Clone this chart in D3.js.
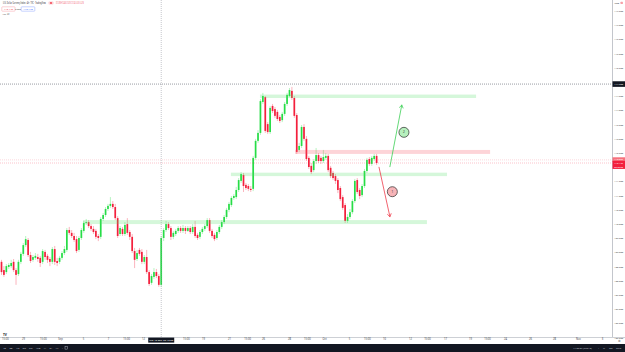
<!DOCTYPE html>
<html><head><meta charset="utf-8">
<script src="https://cdn.jsdelivr.net/npm/d3@7"></script>
<style>
html,body{margin:0;padding:0;background:#fff;overflow:hidden}
svg{display:block;font-family:"Noto Sans",Roboto,Arial,sans-serif}
</style></head><body>
<svg id="c" width="625" height="352"></svg>
<script>
// ---- DATA (4h candles, U.S. Dollar Currency Index) ----
const open = [108.66,108.37,108.30,108.48,108.51,108.66,108.37,108.23,108.66,108.94,
109.25,109.43,108.90,108.73,108.80,108.83,108.80,108.66,109.01,108.87,
108.76,108.66,109.11,108.69,108.66,108.80,108.97,109.08,109.78,109.68,
109.57,109.46,109.08,109.50,109.75,110.03,110.06,109.92,109.82,109.75,
109.57,109.54,110.17,110.31,110.52,110.63,110.70,110.59,110.20,109.64,
109.82,109.64,109.99,109.71,109.54,109.04,108.76,109.08,109.01,108.66,
108.83,108.30,107.92,108.13,108.30,108.16,107.85,109.50,109.78,109.99,
109.85,109.54,109.64,109.75,109.85,109.75,109.85,109.75,109.85,109.71,
109.89,109.61,109.54,109.71,109.82,109.92,110.13,109.75,109.61,109.50,
109.71,109.89,110.06,110.24,110.49,110.66,110.91,110.94,111.19,111.51,
111.72,111.37,111.33,111.23,111.23,112.32,112.92,113.20,114.29,114.46,
113.51,113.23,114.15,114.04,113.94,113.76,113.65,113.87,114.22,114.50,
114.68,114.43,113.83,112.60,112.74,113.41,112.99,112.32,112.04,111.89,
112.21,112.42,112.32,112.21,112.32,112.39,111.97,111.79,111.68,111.54,
111.26,110.94,110.66,110.10,110.24,110.41,110.80,111.54,111.19,111.01,
111.33,111.86,112.28,112.11,112.28,112.39];
const high = [108.73,108.51,108.58,108.62,108.73,108.76,108.44,108.73,109.01,109.32,
109.57,109.50,109.01,108.90,108.97,108.94,108.87,109.11,109.08,108.94,
108.83,109.18,109.22,108.80,108.87,109.04,109.22,109.85,109.89,109.78,
109.68,109.57,109.57,109.85,110.10,110.17,110.13,109.99,109.92,109.82,
109.64,110.24,110.38,110.59,110.70,110.94,110.80,110.70,110.27,109.92,
109.89,110.06,110.20,109.78,109.64,109.15,109.08,109.15,109.11,108.90,
109.08,108.37,108.23,108.44,108.41,108.23,109.57,109.85,110.10,110.06,
109.92,109.75,109.82,109.92,109.92,109.96,109.92,109.92,109.92,109.99,
110.10,109.68,109.78,109.89,109.99,110.20,110.20,109.82,109.68,109.78,
109.96,110.13,110.31,110.56,110.77,110.98,111.05,111.30,111.61,111.82,
111.79,111.44,111.40,111.33,112.39,112.99,113.30,114.39,114.61,114.50,
113.58,114.15,114.22,114.11,114.01,113.83,113.94,114.29,114.61,114.78,
114.82,114.50,113.90,112.85,113.48,113.51,113.09,112.39,112.14,112.28,
112.67,112.49,112.39,112.60,112.49,112.46,112.04,111.86,111.75,111.61,
111.33,111.01,110.73,110.34,110.52,110.87,111.58,111.61,111.26,111.40,
111.93,112.32,112.35,112.39,112.46,112.46];
const low = [108.20,108.13,108.23,108.41,108.44,108.30,107.85,108.16,108.58,108.87,
109.18,108.83,108.62,108.66,108.73,108.66,108.48,108.58,108.73,108.62,
108.51,108.58,108.55,108.51,108.58,108.73,108.90,109.01,109.61,109.50,
109.36,108.97,109.01,109.43,109.68,109.96,109.85,109.75,109.64,109.46,
109.39,109.46,110.10,110.24,110.45,110.56,110.52,110.13,109.50,109.57,
109.57,109.57,109.61,109.43,108.97,108.44,108.69,108.87,108.58,108.58,
108.23,107.81,107.85,108.06,108.09,107.78,107.78,109.39,109.71,109.78,
109.43,109.46,109.57,109.68,109.68,109.68,109.64,109.71,109.64,109.64,
109.50,109.43,109.46,109.64,109.75,109.85,109.68,109.50,109.39,109.43,
109.64,109.82,109.99,110.17,110.41,110.59,110.84,110.87,111.12,111.44,
111.12,111.19,111.15,111.12,111.15,112.25,112.85,113.13,114.22,113.20,
113.16,113.16,113.90,113.73,113.62,113.55,113.58,113.80,114.15,114.46,
114.36,113.73,112.46,112.53,112.67,112.92,112.21,111.93,111.75,111.82,
112.11,112.14,112.11,112.14,112.25,111.82,111.61,111.54,111.40,111.08,
110.80,110.49,110.03,110.03,110.17,110.34,110.73,111.05,110.87,110.94,
111.26,111.79,112.04,112.04,112.21,112.07];
const close = [108.30,108.20,108.51,108.55,108.62,108.37,108.20,108.66,108.94,109.25,
109.46,108.90,108.69,108.83,108.87,108.76,108.62,109.04,108.83,108.73,
108.66,109.11,108.66,108.62,108.80,108.97,109.11,109.78,109.68,109.57,
109.43,109.04,109.50,109.78,110.03,110.06,109.92,109.82,109.71,109.54,
109.50,110.17,110.31,110.52,110.63,110.70,110.59,110.20,109.57,109.85,
109.64,109.96,109.68,109.54,109.04,108.73,108.97,108.94,108.66,108.83,
108.30,107.88,108.16,108.30,108.16,107.85,109.50,109.78,109.99,109.85,
109.54,109.68,109.75,109.85,109.75,109.85,109.75,109.85,109.71,109.89,
109.57,109.50,109.71,109.82,109.92,110.13,109.75,109.57,109.46,109.71,
109.89,110.06,110.24,110.49,110.70,110.91,110.98,111.19,111.54,111.75,
111.33,111.26,111.23,111.19,112.32,112.92,113.20,114.32,114.50,113.27,
113.23,114.08,113.97,113.80,113.69,113.62,113.87,114.22,114.54,114.71,
114.43,113.80,112.53,112.74,113.41,112.99,112.28,112.00,111.82,112.21,
112.42,112.21,112.21,112.35,112.39,111.89,111.68,111.61,111.51,111.19,
110.87,110.56,110.10,110.24,110.41,110.80,111.51,111.12,110.98,111.33,
111.86,112.25,112.11,112.32,112.39,112.14];

const priceTicks = [106.0,106.5,107.0,107.5,108.0,108.5,109.0,109.5,110.0,110.5,111.0,111.5,
112.0,112.5,113.0,113.5,114.0,114.5,115.0,115.5,116.0,116.5,117.0,117.5];
// time ticks in bar-index units
const timeTickPos = [1.4,8.9,17.1,24.2,33.7,44.0,51.5,58.5,76.2,83.3,94.0,101.5,108.1,118.8,126.2,
133.3,143.6,151.0,158.1,168.8,175.8,183.3,193.6,200.6,208.1,218.4,228.3,238.2,248.1];
const timeTickText = ["15:00","29","15:00","Sep","5","7","15:00","12","15:00","19","21","15:00","26","28","15:00",
"Oct","5","15:00","10","12","15:00","17","19","15:00","24","26","28","Nov","3"];

// drawings (bar index / price)
const zoneX0 = [106.8, 121.3, 94.8, 33.7];
const zoneX1 = [196.1, 201.9, 184.1, 175.8];
const zoneTop = [114.55, 112.60, 111.80, 110.13];
const zoneBot = [114.43, 112.46, 111.68, 109.99];
const zoneKind = ["g","r","g","g"];
const arrowX0 = [160.5, 156.0], arrowP0 = [112.01, 111.99];
const arrowX1 = [165.4, 160.5], arrowP1 = [114.18, 110.25];
const arrowKind = ["g","r"];
const badgeX = [166.3, 161.5], badgeP = [113.22, 111.13], badgeText = ["2","1"], badgeKind = ["g","r"];
const crossBar = 66, crossPrice = 114.92;
const crossDateText = "Tue 13 Sep '22  16:00";
const bidPrice = 112.25;

// ---- DRAW ----
const svg = d3.select("#c");
const W = 625, H = 352, plotR = 612, plotB = 337;
const x = d3.scaleLinear().domain([-0.62, 252.27]).range([0, plotR]);
const y = d3.scaleLinear().domain([105.908, 117.88]).range([340, 0]);
const n = close.length;
const GREEN = "#26dd46", RED = "#f3203d";
const lastClose = close[n-1];

svg.append("rect").attr("width", W).attr("height", H).attr("fill", "#fff");

const plot = svg.append("g");
plot.append("clipPath").attr("id","clp").append("rect").attr("width",plotR).attr("height",plotB);
const pg = plot.append("g").attr("clip-path","url(#clp)");

// candles
const cand = pg.append("g").selectAll("g").data(d3.range(n)).join("g");
cand.append("line")
  .attr("x1", i => x(i)).attr("x2", i => x(i))
  .attr("y1", i => y(high[i])).attr("y2", i => y(low[i]))
  .attr("stroke", i => close[i] >= open[i] ? GREEN : RED)
  .attr("stroke-width", 0.45).attr("stroke-opacity", 0.75);
cand.append("rect")
  .attr("x", i => x(i) - 0.85).attr("width", 1.7)
  .attr("y", i => y(Math.max(open[i], close[i])))
  .attr("height", i => Math.max(0.5, Math.abs(y(open[i]) - y(close[i]))))
  .attr("fill", i => close[i] >= open[i] ? GREEN : RED);

// zones
pg.append("g").selectAll("rect").data(d3.range(zoneX0.length)).join("rect")
  .attr("x", i => x(zoneX0[i])).attr("width", i => x(zoneX1[i]) - x(zoneX0[i]))
  .attr("y", i => y(zoneTop[i])).attr("height", i => y(zoneBot[i]) - y(zoneTop[i]))
  .attr("fill", i => zoneKind[i] === "g" ? "rgba(80,220,100,0.24)" : "rgba(247,82,100,0.25)");

// price lines
[[bidPrice, 0.4],[lastClose, 0.6]].forEach(([p, op]) => {
  pg.append("line").attr("x1",0).attr("x2",plotR).attr("y1",y(p)).attr("y2",y(p))
    .attr("stroke", RED).attr("stroke-opacity", op).attr("stroke-width",0.45).attr("stroke-dasharray","1,1");
});

// arrows
arrowKind.forEach((k,i) => {
  const col = k === "g" ? "#3ccf55" : "#ee3b4a";
  const X0 = x(arrowX0[i]), Y0 = y(arrowP0[i]), X1 = x(arrowX1[i]), Y1 = y(arrowP1[i]);
  const ang = Math.atan2(Y1 - Y0, X1 - X0), L = 3.2, a = 0.6;
  const h1 = [X1 - L*Math.cos(ang - a), Y1 - L*Math.sin(ang - a)];
  const h2 = [X1 - L*Math.cos(ang + a), Y1 - L*Math.sin(ang + a)];
  pg.append("path").attr("d", `M${X0},${Y0}L${X1},${Y1}M${h1[0]},${h1[1]}L${X1},${Y1}L${h2[0]},${h2[1]}`)
    .attr("fill","none").attr("stroke",col).attr("stroke-width",0.8).attr("stroke-linecap","round");
});
// badges
badgeKind.forEach((k,i) => {
  const cx = x(badgeX[i]), cy = y(badgeP[i]);
  pg.append("circle").attr("cx",cx).attr("cy",cy).attr("r",5)
    .attr("fill", k === "g" ? "#b6f0bd" : "#f7b4b8").attr("stroke","#2a2a2a").attr("stroke-width",0.7);
  pg.append("text").attr("x",cx).attr("y",cy+1).attr("text-anchor","middle")
    .attr("font-size",3).attr("fill","#222").text(badgeText[i]);
});

// crosshair
pg.append("line").attr("x1",x(crossBar)).attr("x2",x(crossBar)).attr("y1",0).attr("y2",plotB)
  .attr("stroke","#8a8d96").attr("stroke-width",0.5).attr("stroke-dasharray","1,1");
pg.append("line").attr("x1",0).attr("x2",plotR).attr("y1",y(crossPrice)).attr("y2",y(crossPrice))
  .attr("stroke","#555a66").attr("stroke-width",0.6).attr("stroke-dasharray","1,1");

// price axis (labels hidden under the crosshair / last-price labels are skipped, as the platform does)
const busy = [crossPrice, bidPrice, lastClose];
const shownTicks = priceTicks.filter(t => busy.every(b => Math.abs(y(t) - y(b)) > 4.5));
svg.append("line").attr("x1",plotR+0.5).attr("x2",plotR+0.5).attr("y1",0).attr("y2",plotB)
  .attr("stroke","#9aa0aa").attr("stroke-width",0.6);
const yAx = svg.append("g").attr("transform",`translate(${plotR},0)`)
  .call(d3.axisRight(y).tickValues(shownTicks).tickSize(0).tickPadding(2.3).tickFormat(d3.format(".3f")));
yAx.select(".domain").remove();
yAx.selectAll("text").attr("font-size",2.4).attr("fill","#3f424a").attr("font-family","Noto Sans, sans-serif");
svg.append("text").attr("x",614.5).attr("y",3.6).attr("font-size",2.4).attr("fill","#3f424a").text("USD");
svg.append("rect").attr("x",620.5).attr("y",1.7).attr("width",2.4).attr("height",2.4).attr("rx",0.5).attr("fill","#f7a0a8");

// time axis
svg.append("line").attr("x1",0).attr("x2",W).attr("y1",plotB+0.5).attr("y2",plotB+0.5)
  .attr("stroke","#9aa0aa").attr("stroke-width",0.5);
const xAx = svg.append("g").attr("transform",`translate(0,${plotB})`)
  .call(d3.axisBottom(x).tickValues(timeTickPos).tickSize(0).tickPadding(1.4).tickFormat((d,i) => timeTickText[i]));
xAx.select(".domain").remove();
xAx.selectAll("text").attr("font-size",2.6).attr("fill","#3f424a").attr("font-family","Noto Sans, sans-serif");

// crosshair labels
const cxp = x(crossBar);
svg.append("rect").attr("x",cxp-13).attr("y",plotB+0.6).attr("width",26).attr("height",5).attr("fill","#131722");
svg.append("text").attr("x",cxp).attr("y",plotB+4).attr("text-anchor","middle").attr("font-size",2.5)
  .attr("fill","#fff").text(crossDateText);
const f3 = d3.format(".3f");
svg.append("rect").attr("x",plotR+0.5).attr("y",y(crossPrice)-2.8).attr("width",12.5).attr("height",5.6).attr("fill","#131722");
svg.append("text").attr("x",614.3).attr("y",y(crossPrice)+0.9).attr("font-size",2.4).attr("fill","#fff").text(f3(crossPrice));

// price labels
svg.append("rect").attr("x",plotR+0.5).attr("y",y(bidPrice)-2.6).attr("width",12.5).attr("height",4.6).attr("fill","#f7707c");
svg.append("text").attr("x",614.3).attr("y",y(bidPrice)+0.6).attr("font-size",2.3).attr("fill","#fff").text(f3(bidPrice));
svg.append("rect").attr("x",plotR+0.5).attr("y",y(lastClose)-2.1).attr("width",12.5).attr("height",8).attr("fill","#f3203d");
svg.append("text").attr("x",614.3).attr("y",y(lastClose)+1.0).attr("font-size",2.3).attr("fill","#fff").text(f3(lastClose));
svg.append("text").attr("x",614.3).attr("y",y(lastClose)+4.6).attr("font-size",2.2).attr("fill","#fff").text("00:36:33");

// legend: texts squeezed horizontally to the reference widths
function squeezed(g, x0, yb, size, fill, str, width) {
  const gg = g.append("g");
  const t = gg.append("text").attr("x",0).attr("y",0).attr("font-size",size).attr("fill",fill).text(str);
  const len = t.node().getComputedTextLength();
  gg.attr("transform", `translate(${x0},${yb}) scale(${width/len},1)`);
}
const chg = close[n-1] - close[n-2];
squeezed(svg, 3, 4, 3, "#1f232c", "U.S. Dollar Currency Index · 4h · TVC · TradingView", 43);
svg.append("rect").attr("x",48.5).attr("y",1.4).attr("width",5).attr("height",3.2).attr("rx",0.8).attr("fill","#fbd0d4");
svg.append("circle").attr("cx",51).attr("cy",3).attr("r",0.9).attr("fill","#f23645");
squeezed(svg, 56, 4, 2.8, "#f23645",
  `O${f3(open[n-1])} H${f3(high[n-1])} L${f3(low[n-1])} C${f3(close[n-1])} ${chg<0?"−":"+"}${f3(Math.abs(chg))} (${chg<0?"−":"+"}${(Math.abs(chg)/close[n-2]*100).toFixed(2)}%)`, 28);
svg.append("rect").attr("x",1.8).attr("y",6.8).attr("width",13.2).attr("height",4.4).attr("rx",0.6)
  .attr("fill","#fff").attr("stroke","#f7a0a8").attr("stroke-width",0.5);
svg.append("text").attr("x",8.4).attr("y",10).attr("text-anchor","middle").attr("font-size",2.5).attr("fill","#f23645").text(f3(lastClose));
svg.append("text").attr("x",18).attr("y",10).attr("text-anchor","middle").attr("font-size",2.4).attr("fill","#555").text("0.000");
svg.append("rect").attr("x",21.2).attr("y",6.8).attr("width",13.6).attr("height",4.4).attr("rx",0.6)
  .attr("fill","#fff").attr("stroke","#8ea6ff").attr("stroke-width",0.5);
svg.append("text").attr("x",28).attr("y",10).attr("text-anchor","middle").attr("font-size",2.5).attr("fill","#2962ff").text(f3(lastClose));
svg.append("text").attr("x",2.5).attr("y",15.4).attr("font-size",2.5).attr("fill","#555").text("Vol  ∅");

// TV logo
svg.append("text").attr("x",3).attr("y",335.5).attr("font-size",3.2).attr("font-weight","bold").attr("fill","#131722").text("TV");

// bottom bar
svg.append("rect").attr("x",0).attr("y",344).attr("width",W).attr("height",8).attr("fill","#131722");
const ranges = ["1D","5D","1M","3M","6M","YTD","1Y","5Y","All"];
const rx = [3,9.5,16,22.5,29,36,43.5,49.5,55.5];
ranges.forEach((t,i) => svg.append("text").attr("x",rx[i]).attr("y",348.8).attr("font-size",2.4).attr("fill","#c8ccd6").text(t));
svg.append("text").attr("x",62).attr("y",348.8).attr("font-size",2.4).attr("fill","#c8ccd6").text("›");
svg.append("rect").attr("x",65).attr("y",346.5).attr("width",2.5).attr("height",2.6).attr("fill","none").attr("stroke","#c8ccd6").attr("stroke-width",0.4);
svg.append("text").attr("x",573).attr("y",348.8).attr("font-size",2.4).attr("fill","#c8ccd6").text("14:23:27 (UTC+8)");
svg.append("text").attr("x",598).attr("y",348.8).attr("font-size",2.4).attr("fill","#c8ccd6").text("|");
svg.append("text").attr("x",603).attr("y",348.8).attr("font-size",2.4).attr("fill","#c8ccd6").text("%");
svg.append("text").attr("x",609).attr("y",348.8).attr("font-size",2.4).attr("fill","#c8ccd6").text("log");
svg.append("text").attr("x",616).attr("y",348.8).attr("font-size",2.4).attr("fill","#c8ccd6").text("auto");
svg.append("text").attr("x",618).attr("y",342.3).attr("font-size",3).attr("fill","#555").text("⚙");
</script>
</body></html>
